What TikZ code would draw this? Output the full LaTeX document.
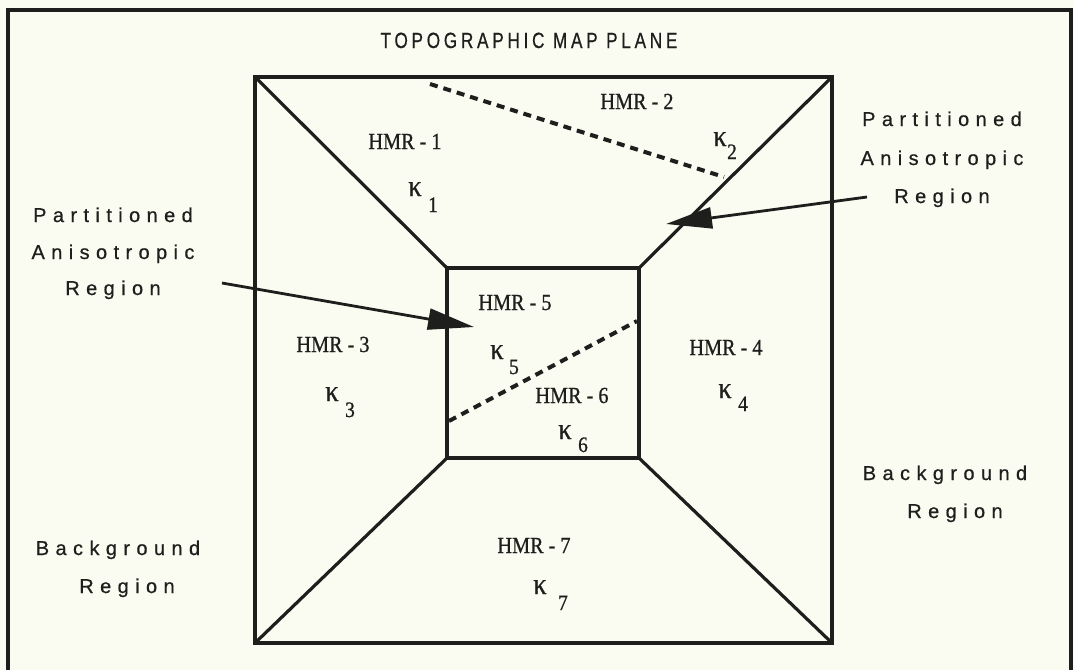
\documentclass[tikz,border=0pt]{standalone}
\usepackage{fontspec}
\setmainfont{Liberation Serif}
\newfontfamily\lblfont[LetterSpace=32,FakeBold=0.6]{Liberation Sans}
\newfontfamily\titlefont[LetterSpace=17,FakeStretch=0.78,FakeBold=0.6]{Liberation Sans}
\newfontfamily\hmrfont[FakeStretch=0.88,FakeBold=0.8]{Liberation Serif}
\usetikzlibrary{arrows.meta}
\definecolor{paper}{RGB}{250,251,241}
\definecolor{ink}{RGB}{30,30,28}
\begin{document}
\begin{tikzpicture}[x=1pt,y=-1pt,
  frame/.style={draw=ink,line width=3.2pt,line join=miter},
  diag/.style={draw=ink,line width=3.2pt},
  dashln/.style={draw=ink,line width=4pt,dash pattern=on 8pt off 6pt},
  pointer/.style={draw=ink,line width=2.8pt,-{Triangle[length=46pt,width=21pt]}},
  lbl/.style={inner sep=0pt,anchor=base,font=\lblfont\fontsize{20}{20}\selectfont,text=ink},
  ttl/.style={inner sep=0pt,anchor=base,font=\titlefont\fontsize{22}{22}\selectfont,text=ink},
  hmr/.style={inner sep=0pt,anchor=base,font=\hmrfont\fontsize{23}{23}\selectfont,text=ink},
  kap/.style={inner sep=0pt,anchor=base,font=\hmrfont\fontsize{30}{30}\selectfont,text=ink},
  sub/.style={inner sep=0pt,anchor=base,font=\hmrfont\fontsize{22}{22}\selectfont,text=ink}]
\useasboundingbox (0,0) rectangle (1074,670);
\fill[paper] (0,0) rectangle (1074,670);
% outer frame
\coordinate (fbl) at (8,670);
\coordinate (ftl) at (8,10);
\coordinate (ftr) at (1071,10);
\coordinate (fbr) at (1071,670);
\draw[frame] (fbl) -- (ftl) -- (ftr) -- (fbr);
% big square
\coordinate (A) at (255,77);
\coordinate (B) at (832,77);
\coordinate (C) at (832,643);
\coordinate (D) at (255,643);
% inner square
\coordinate (a) at (447,268);
\coordinate (b) at (639,268);
\coordinate (c) at (639,458);
\coordinate (d) at (447,458);
\draw[frame] (A) -- (B) -- (C) -- (D) -- cycle;
\draw[frame] (a) -- (b) -- (c) -- (d) -- cycle;
\draw[diag] (A) -- (a);
\draw[diag] (B) -- (b);
\draw[diag] (C) -- (c);
\draw[diag] (D) -- (d);
% dashed partitions
\coordinate (p1) at (430,84);
\coordinate (p2) at (724,177);
\coordinate (q1) at (449,421);
\coordinate (q2) at (637,321);
\draw[dashln] (p1) -- (p2);
\draw[dashln] (q1) -- (q2);
% title
\node[ttl] (title) at (529,48) {TOPOGRAPHIC MAP PLANE};
% region labels
\node[hmr] (h1) at (405,149) {HMR - 1};
\node[kap] (k1) at (415,196) {κ};
\node[sub] (s1) at (433,212) {1};
\node[hmr] (h2) at (637,109) {HMR - 2};
\node[kap] (k2) at (720,146) {κ};
\node[sub] (s2) at (732,159) {2};
\node[hmr] (h3) at (333,352) {HMR - 3};
\node[kap] (k3) at (332,401) {κ};
\node[sub] (s3) at (350,417) {3};
\node[hmr] (h4) at (726,355) {HMR - 4};
\node[kap] (k4) at (725,398) {κ};
\node[sub] (s4) at (743,411) {4};
\node[hmr] (h5) at (515,310) {HMR - 5};
\node[kap] (k5) at (497,359) {κ};
\node[sub] (s5) at (514,374) {5};
\node[hmr] (h6) at (572,403) {HMR - 6};
\node[kap] (k6) at (565,439) {κ};
\node[sub] (s6) at (583,452) {6};
\node[hmr] (h7) at (534,553) {HMR - 7};
\node[kap] (k7) at (540,594) {κ};
\node[sub] (s7) at (563,610) {7};
% side labels
\node[lbl] (lp1) at (113,222) {Partitioned};
\node[lbl] (lp2) at (113,259) {Anisotropic};
\node[lbl] (lp3) at (113,295) {Region};
\node[lbl] (rp1) at (942,126) {Partitioned};
\node[lbl] (rp2) at (942,165) {Anisotropic};
\node[lbl] (rp3) at (942,203) {Region};
\node[lbl] (rb1) at (945,480) {Background};
\node[lbl] (rb2) at (955,518) {Region};
\node[lbl] (lb1) at (118,555) {Background};
\node[lbl] (lb2) at (127,593) {Region};
% pointers
\coordinate (t1) at (222,283);
\coordinate (e1) at (474,327);
\coordinate (t2) at (867,197);
\coordinate (e2) at (666,224);
\draw[pointer] (t1) -- (e1);
\draw[pointer] (t2) -- (e2);
\end{tikzpicture}
\end{document}
